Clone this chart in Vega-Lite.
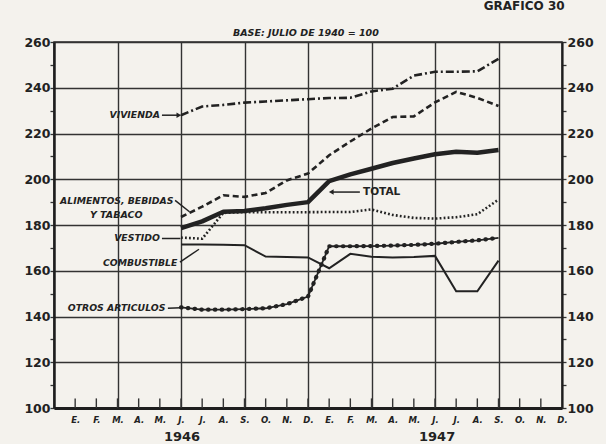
{
  "$schema": "https://vega.github.io/schema/vega-lite/v6.json",
  "width": 508,
  "height": 366,
  "autosize": {"type": "none"},
  "padding": {"left": 54, "top": 42, "right": 44, "bottom": 36},
  "background": "#f4f2ed",
  "config": {"view": {"stroke": "#2a2a2a", "strokeWidth": 1.5}},
  "datasets": {
    "series": [
      {"mes": 6, "serie": "Vivienda", "valor": 228}, {"mes": 7, "serie": "Vivienda", "valor": 231.8}, {"mes": 8, "serie": "Vivienda", "valor": 232.5}, {"mes": 9, "serie": "Vivienda", "valor": 233.5}, {"mes": 10, "serie": "Vivienda", "valor": 234}, {"mes": 11, "serie": "Vivienda", "valor": 234.5}, {"mes": 12, "serie": "Vivienda", "valor": 235}, {"mes": 13, "serie": "Vivienda", "valor": 235.5}, {"mes": 14, "serie": "Vivienda", "valor": 235.6}, {"mes": 15, "serie": "Vivienda", "valor": 238.4}, {"mes": 16, "serie": "Vivienda", "valor": 239.6}, {"mes": 17, "serie": "Vivienda", "valor": 245.3}, {"mes": 18, "serie": "Vivienda", "valor": 247}, {"mes": 19, "serie": "Vivienda", "valor": 247}, {"mes": 20, "serie": "Vivienda", "valor": 247.2}, {"mes": 21, "serie": "Vivienda", "valor": 252.6},
      {"mes": 6, "serie": "Alimentos", "valor": 183.5}, {"mes": 7, "serie": "Alimentos", "valor": 188}, {"mes": 8, "serie": "Alimentos", "valor": 193}, {"mes": 9, "serie": "Alimentos", "valor": 192.3}, {"mes": 10, "serie": "Alimentos", "valor": 194}, {"mes": 11, "serie": "Alimentos", "valor": 199.5}, {"mes": 12, "serie": "Alimentos", "valor": 202.5}, {"mes": 13, "serie": "Alimentos", "valor": 210.5}, {"mes": 14, "serie": "Alimentos", "valor": 216.5}, {"mes": 15, "serie": "Alimentos", "valor": 222.2}, {"mes": 16, "serie": "Alimentos", "valor": 227.2}, {"mes": 17, "serie": "Alimentos", "valor": 227.5}, {"mes": 18, "serie": "Alimentos", "valor": 233.6}, {"mes": 19, "serie": "Alimentos", "valor": 238.2}, {"mes": 20, "serie": "Alimentos", "valor": 235.6}, {"mes": 21, "serie": "Alimentos", "valor": 232},
      {"mes": 6, "serie": "Total", "valor": 178.6}, {"mes": 7, "serie": "Total", "valor": 181.6}, {"mes": 8, "serie": "Total", "valor": 185.8}, {"mes": 9, "serie": "Total", "valor": 186.1}, {"mes": 10, "serie": "Total", "valor": 187.3}, {"mes": 11, "serie": "Total", "valor": 188.8}, {"mes": 12, "serie": "Total", "valor": 190}, {"mes": 13, "serie": "Total", "valor": 199.2}, {"mes": 14, "serie": "Total", "valor": 202.1}, {"mes": 15, "serie": "Total", "valor": 204.6}, {"mes": 16, "serie": "Total", "valor": 207.1}, {"mes": 17, "serie": "Total", "valor": 209.1}, {"mes": 18, "serie": "Total", "valor": 210.9}, {"mes": 19, "serie": "Total", "valor": 212}, {"mes": 20, "serie": "Total", "valor": 211.6}, {"mes": 21, "serie": "Total", "valor": 212.8},
      {"mes": 6, "serie": "Vestido", "valor": 174.5}, {"mes": 7, "serie": "Vestido", "valor": 174}, {"mes": 8, "serie": "Vestido", "valor": 185.3}, {"mes": 9, "serie": "Vestido", "valor": 185.6}, {"mes": 10, "serie": "Vestido", "valor": 185.6}, {"mes": 11, "serie": "Vestido", "valor": 185.6}, {"mes": 12, "serie": "Vestido", "valor": 185.6}, {"mes": 13, "serie": "Vestido", "valor": 185.7}, {"mes": 14, "serie": "Vestido", "valor": 185.7}, {"mes": 15, "serie": "Vestido", "valor": 186.8}, {"mes": 16, "serie": "Vestido", "valor": 184.4}, {"mes": 17, "serie": "Vestido", "valor": 183.1}, {"mes": 18, "serie": "Vestido", "valor": 182.8}, {"mes": 19, "serie": "Vestido", "valor": 183.4}, {"mes": 20, "serie": "Vestido", "valor": 184.7}, {"mes": 21, "serie": "Vestido", "valor": 191.1},
      {"mes": 6, "serie": "Combustible", "valor": 171.5}, {"mes": 7, "serie": "Combustible", "valor": 171.5}, {"mes": 8, "serie": "Combustible", "valor": 171.4}, {"mes": 9, "serie": "Combustible", "valor": 171.2}, {"mes": 10, "serie": "Combustible", "valor": 166.2}, {"mes": 11, "serie": "Combustible", "valor": 166}, {"mes": 12, "serie": "Combustible", "valor": 165.8}, {"mes": 13, "serie": "Combustible", "valor": 161.1}, {"mes": 14, "serie": "Combustible", "valor": 167.4}, {"mes": 15, "serie": "Combustible", "valor": 166.1}, {"mes": 16, "serie": "Combustible", "valor": 165.8}, {"mes": 17, "serie": "Combustible", "valor": 166}, {"mes": 18, "serie": "Combustible", "valor": 166.5}, {"mes": 19, "serie": "Combustible", "valor": 151}, {"mes": 20, "serie": "Combustible", "valor": 151}, {"mes": 21, "serie": "Combustible", "valor": 164.4},
      {"mes": 6, "serie": "Otros", "valor": 144}, {"mes": 7, "serie": "Otros", "valor": 143}, {"mes": 8, "serie": "Otros", "valor": 143}, {"mes": 9, "serie": "Otros", "valor": 143.2}, {"mes": 10, "serie": "Otros", "valor": 143.6}, {"mes": 11, "serie": "Otros", "valor": 145.4}, {"mes": 12, "serie": "Otros", "valor": 148.7}, {"mes": 13, "serie": "Otros", "valor": 170.7}, {"mes": 14, "serie": "Otros", "valor": 170.7}, {"mes": 15, "serie": "Otros", "valor": 170.8}, {"mes": 16, "serie": "Otros", "valor": 171}, {"mes": 17, "serie": "Otros", "valor": 171.3}, {"mes": 18, "serie": "Otros", "valor": 171.8}, {"mes": 19, "serie": "Otros", "valor": 172.6}, {"mes": 20, "serie": "Otros", "valor": 173.3}, {"mes": 21, "serie": "Otros", "valor": 174.4}
    ],
    "meses": [
      {"mes": 1}, {"mes": 2}, {"mes": 3}, {"mes": 4}, {"mes": 5}, {"mes": 6}, {"mes": 7}, {"mes": 8}, {"mes": 9}, {"mes": 10}, {"mes": 11}, {"mes": 12},
      {"mes": 13}, {"mes": 14}, {"mes": 15}, {"mes": 16}, {"mes": 17}, {"mes": 18}, {"mes": 19}, {"mes": 20}, {"mes": 21}, {"mes": 22}, {"mes": 23}
    ]
  },
  "resolve": {"axis": {"x": "independent", "y": "independent"}},
  "layer": [
    {
      "data": {"name": "series"},
      "transform": [{"filter": "datum.serie === 'Total'"}],
      "mark": {"type": "line", "color": "#222", "strokeWidth": 4.5, "strokeJoin": "round"},
      "encoding": {
        "x": {"field": "mes", "type": "quantitative", "scale": {"domain": [0, 24], "nice": false, "zero": false},
          "axis": {"title": null, "values": [1,2,3,4,5,6,7,8,9,10,11,12,13,14,15,16,17,18,19,20,21,22,23,24],
            "labelExpr": "['D.','E.','F.','M.','A.','M.','J.','J.','A.','S.','O.','N.'][datum.value % 12]",
            "grid": true, "gridColor": "#333", "gridWidth": 1.4,
            "gridOpacity": {"condition": {"test": "datum.value % 3 === 0", "value": 1}, "value": 0},
            "ticks": false,
            "domainColor": "#1e1e1e", "domainWidth": 3,
            "labelPadding": 7, "labelFont": "DejaVu Sans", "labelFontSize": 8.5, "labelFontStyle": "italic", "labelFontWeight": "bold", "labelColor": "#222", "labelFlush": false, "labelOverlap": false}},
        "y": {"field": "valor", "type": "quantitative", "scale": {"domain": [100, 260], "nice": false, "zero": false},
          "axis": {"title": null, "values": [100,110,120,130,140,150,160,170,180,190,200,210,220,230,240,250,260],
            "labelExpr": "datum.value % 20 === 0 ? datum.label : ''",
            "grid": true, "gridColor": "#333", "gridWidth": 1.4,
            "gridOpacity": {"condition": {"test": "datum.value % 20 === 0", "value": 1}, "value": 0},
            "tickSize": 4, "tickColor": "#333", "tickWidth": 1.3,
            "domainColor": "#1e1e1e", "domainWidth": 2.5,
            "labelPadding": 0, "labelFont": "DejaVu Sans", "labelFontSize": 12.5, "labelFontWeight": "bold", "labelColor": "#222", "labelFlush": false, "labelOverlap": false}}
      }
    },
    {
      "data": {"name": "series"},
      "transform": [{"filter": "datum.serie === 'Vivienda'"}],
      "mark": {"type": "line", "color": "#222", "strokeWidth": 2.6, "strokeDash": [8, 3, 2, 3]},
      "encoding": {
        "x": {"field": "mes", "type": "quantitative", "scale": {"domain": [0, 24], "nice": false, "zero": false}, "axis": null},
        "y": {"field": "valor", "type": "quantitative", "scale": {"domain": [100, 260], "nice": false, "zero": false},
          "axis": {"title": null, "orient": "right", "values": [100,110,120,130,140,150,160,170,180,190,200,210,220,230,240,250,260],
            "labelExpr": "datum.value % 20 === 0 ? datum.label : ''",
            "grid": false, "tickSize": 4, "tickColor": "#333", "tickWidth": 1.3,
            "domainColor": "#1e1e1e", "domainWidth": 2,
            "labelPadding": 1, "labelFont": "DejaVu Sans", "labelFontSize": 12.5, "labelFontWeight": "bold", "labelColor": "#222", "labelFlush": false, "labelOverlap": false}}
      }
    },
    {
      "data": {"name": "meses"},
      "mark": {"type": "rule", "color": "#333", "strokeWidth": 1.4},
      "encoding": {
        "x": {"field": "mes", "type": "quantitative", "scale": {"domain": [0, 24], "nice": false, "zero": false}, "axis": null},
        "y": {"datum": 100, "type": "quantitative", "scale": {"domain": [100, 260], "nice": false, "zero": false}, "axis": null},
        "y2": {"datum": 104.2}
      }
    },
    {
      "data": {"name": "series"},
      "transform": [{"filter": "datum.serie === 'Alimentos'"}],
      "mark": {"type": "line", "color": "#222", "strokeWidth": 2.6, "strokeDash": [6, 3.5]},
      "encoding": {
        "x": {"field": "mes", "type": "quantitative", "scale": {"domain": [0, 24], "nice": false, "zero": false}, "axis": null},
        "y": {"field": "valor", "type": "quantitative", "scale": {"domain": [100, 260], "nice": false, "zero": false}, "axis": null}
      }
    },
    {
      "data": {"name": "series"},
      "transform": [{"filter": "datum.serie === 'Vestido'"}],
      "mark": {"type": "line", "color": "#222", "strokeWidth": 2.6, "strokeDash": [1.8, 2.2]},
      "encoding": {
        "x": {"field": "mes", "type": "quantitative", "scale": {"domain": [0, 24], "nice": false, "zero": false}, "axis": null},
        "y": {"field": "valor", "type": "quantitative", "scale": {"domain": [100, 260], "nice": false, "zero": false}, "axis": null}
      }
    },
    {
      "data": {"name": "series"},
      "transform": [{"filter": "datum.serie === 'Combustible'"}],
      "mark": {"type": "line", "color": "#222", "strokeWidth": 2},
      "encoding": {
        "x": {"field": "mes", "type": "quantitative", "scale": {"domain": [0, 24], "nice": false, "zero": false}, "axis": null},
        "y": {"field": "valor", "type": "quantitative", "scale": {"domain": [100, 260], "nice": false, "zero": false}, "axis": null}
      }
    },
    {
      "data": {"name": "series"},
      "transform": [{"filter": "datum.serie === 'Otros'"}],
      "mark": {"type": "line", "color": "#222", "strokeWidth": 1.8},
      "encoding": {
        "x": {"field": "mes", "type": "quantitative", "scale": {"domain": [0, 24], "nice": false, "zero": false}, "axis": null},
        "y": {"field": "valor", "type": "quantitative", "scale": {"domain": [100, 260], "nice": false, "zero": false}, "axis": null}
      }
    },
    {
      "data": {"name": "series"},
      "transform": [{"filter": "datum.serie === 'Otros'"}],
      "mark": {"type": "line", "color": "#222", "strokeWidth": 4.2, "strokeCap": "round", "strokeDash": [0.5, 6.3]},
      "encoding": {
        "x": {"field": "mes", "type": "quantitative", "scale": {"domain": [0, 24], "nice": false, "zero": false}, "axis": null},
        "y": {"field": "valor", "type": "quantitative", "scale": {"domain": [100, 260], "nice": false, "zero": false}, "axis": null}
      }
    },
    {
      "data": {"values": [
        {"mes": 5.1, "valor": 228, "mes2": 5.85, "valor2": 228},
        {"mes": 5.72, "valor": 190.8, "mes2": 6.4, "valor2": 185.8},
        {"mes": 5.1, "valor": 174.1, "mes2": 5.97, "valor2": 174.1},
        {"mes": 5.95, "valor": 163.8, "mes2": 6.85, "valor2": 169.4},
        {"mes": 5.38, "valor": 143.6, "mes2": 6.0, "valor2": 143.8},
        {"mes": 14.45, "valor": 194.4, "mes2": 13.15, "valor2": 194.4}
      ]},
      "mark": {"type": "rule", "color": "#222", "strokeWidth": 1.5},
      "encoding": {
        "x": {"field": "mes", "type": "quantitative", "scale": {"domain": [0, 24], "nice": false, "zero": false}, "axis": null},
        "x2": {"field": "mes2"},
        "y": {"field": "valor", "type": "quantitative", "scale": {"domain": [100, 260], "nice": false, "zero": false}, "axis": null},
        "y2": {"field": "valor2"}
      }
    },
    {
      "data": {"values": [{"mes": 5.9, "valor": 228}]},
      "mark": {"type": "point", "shape": "triangle-right", "filled": true, "color": "#222", "size": 30, "opacity": 1},
      "encoding": {
        "x": {"field": "mes", "type": "quantitative", "scale": {"domain": [0, 24], "nice": false, "zero": false}, "axis": null},
        "y": {"field": "valor", "type": "quantitative", "scale": {"domain": [100, 260], "nice": false, "zero": false}, "axis": null}
      }
    },
    {
      "data": {"values": [{"mes": 13.1, "valor": 194.4}]},
      "mark": {"type": "point", "shape": "triangle-left", "filled": true, "color": "#222", "size": 30, "opacity": 1},
      "encoding": {
        "x": {"field": "mes", "type": "quantitative", "scale": {"domain": [0, 24], "nice": false, "zero": false}, "axis": null},
        "y": {"field": "valor", "type": "quantitative", "scale": {"domain": [100, 260], "nice": false, "zero": false}, "axis": null}
      }
    },
    {
      "data": {"values": [
        {"mes": 5.0, "valor": 228, "texto": "VIVIENDA"},
        {"mes": 5.64, "valor": 190.3, "texto": "ALIMENTOS, BEBIDAS"},
        {"mes": 5.0, "valor": 174.1, "texto": "VESTIDO"},
        {"mes": 5.83, "valor": 163.2, "texto": "COMBUSTIBLE"},
        {"mes": 5.26, "valor": 143.5, "texto": "OTROS ARTICULOS"}
      ]},
      "mark": {"type": "text", "align": "right", "baseline": "middle", "font": "DejaVu Sans", "fontSize": 9.3, "fontStyle": "italic", "fontWeight": "bold", "color": "#222"},
      "encoding": {
        "x": {"field": "mes", "type": "quantitative", "scale": {"domain": [0, 24], "nice": false, "zero": false}, "axis": null},
        "y": {"field": "valor", "type": "quantitative", "scale": {"domain": [100, 260], "nice": false, "zero": false}, "axis": null},
        "text": {"field": "texto"}
      }
    },
    {
      "data": {"values": [
        {"mes": 2.94, "valor": 184.2, "texto": "Y TABACO"},
        {"mes": 11.9, "valor": 263.8, "texto": "BASE: JULIO DE 1940 = 100"}
      ]},
      "mark": {"type": "text", "align": "center", "baseline": "middle", "font": "DejaVu Sans", "fontSize": 9.5, "fontStyle": "italic", "fontWeight": "bold", "color": "#222"},
      "encoding": {
        "x": {"field": "mes", "type": "quantitative", "scale": {"domain": [0, 24], "nice": false, "zero": false}, "axis": null},
        "y": {"field": "valor", "type": "quantitative", "scale": {"domain": [100, 260], "nice": false, "zero": false}, "axis": null},
        "text": {"field": "texto"}
      }
    },
    {
      "data": {"values": [
        {"mes": 6.05, "valor": 87.2, "texto": "1946"},
        {"mes": 18.1, "valor": 87.2, "texto": "1947"}
      ]},
      "mark": {"type": "text", "align": "center", "baseline": "middle", "font": "DejaVu Sans", "fontSize": 13, "fontWeight": "bold", "color": "#222"},
      "encoding": {
        "x": {"field": "mes", "type": "quantitative", "scale": {"domain": [0, 24], "nice": false, "zero": false}, "axis": null},
        "y": {"field": "valor", "type": "quantitative", "scale": {"domain": [100, 260], "nice": false, "zero": false}, "axis": null},
        "text": {"field": "texto"}
      }
    },
    {
      "data": {"values": [
        {"mes": 14.6, "valor": 194.4, "texto": "TOTAL"},
        {"mes": 20.3, "valor": 275.6, "texto": "GRAFICO   30"}
      ]},
      "mark": {"type": "text", "align": "left", "baseline": "middle", "font": "DejaVu Sans", "fontWeight": "bold", "color": "#222"},
      "encoding": {
        "x": {"field": "mes", "type": "quantitative", "scale": {"domain": [0, 24], "nice": false, "zero": false}, "axis": null},
        "y": {"field": "valor", "type": "quantitative", "scale": {"domain": [100, 260], "nice": false, "zero": false}, "axis": null},
        "text": {"field": "texto"},
        "size": {"condition": {"test": "datum.texto === 'TOTAL'", "value": 10.5}, "value": 12}
      }
    }
  ]
}
